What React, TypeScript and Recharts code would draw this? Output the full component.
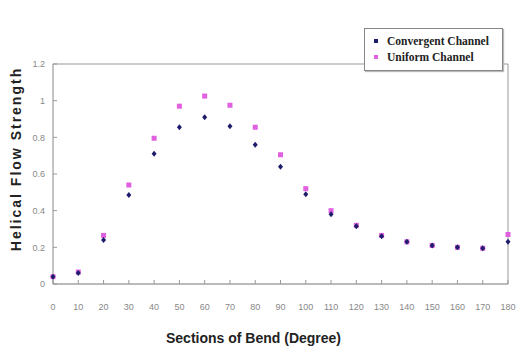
import { ScatterChart, Scatter, XAxis, YAxis, ReferenceLine, Legend, Label } from 'recharts';

const sections = [0, 10, 20, 30, 40, 50, 60, 70, 80, 90, 100, 110, 120, 130, 140, 150, 160, 170, 180];
const convergent = [0.04, 0.06, 0.24, 0.485, 0.71, 0.855, 0.91, 0.86, 0.76, 0.64, 0.49, 0.38, 0.315, 0.26, 0.23, 0.21, 0.2, 0.195, 0.23];
const uniform = [0.04, 0.065, 0.265, 0.54, 0.795, 0.97, 1.025, 0.975, 0.855, 0.705, 0.52, 0.4, 0.32, 0.265, 0.23, 0.21, 0.2, 0.195, 0.27];
const yTicks = [0, 0.2, 0.4, 0.6, 0.8, 1, 1.2];

const NAVY = '#1d1d6b';
const PINK = '#e060e0';
const SANS = 'Arial, "Liberation Sans", sans-serif';

const convData = sections.map((s, i) => ({ x: s, y: convergent[i] }));
const uniData = sections.map((s, i) => ({ x: s, y: uniform[i] }));

const Diamond = (p: any) => {
  const { cx, cy } = p;
  return <polygon points={`${cx},${cy - 3} ${cx + 2.5},${cy} ${cx},${cy + 3} ${cx - 2.5},${cy}`} fill={NAVY} />;
};

const Square = (p: any) => {
  const { cx, cy } = p;
  return <rect x={cx - 2.5} y={cy - 2.5} width={5} height={5} fill={PINK} />;
};

// y title sits a bit above the plot middle in the original
const YTitle = (p: any) => {
  const vb = p.viewBox;
  const cy = vb.y + vb.height / 2 - 15;
  return (
    <text
      x={16}
      y={cy}
      transform={`rotate(-90, 16, ${cy})`}
      textAnchor="middle"
      dominantBaseline="central"
      style={{ fontSize: 14, fontWeight: 'bold', letterSpacing: 2, fill: '#222', fontFamily: SANS }}
    >
      Helical Flow Strength
    </text>
  );
};

const LegendBox = () => (
  <div
    style={{
      border: '1px solid #888',
      boxShadow: '1px 1px 1px #bbb',
      background: '#fff',
      width: 137,
      padding: '4px 0 5px 0',
      fontFamily: '"Liberation Serif", "Times New Roman", serif',
      fontWeight: 'bold',
      fontSize: 11.5,
      color: '#222',
      lineHeight: '16px',
    }}
  >
    {[
      { name: 'Convergent Channel', c: NAVY },
      { name: 'Uniform Channel', c: PINK },
    ].map((it) => (
      <div key={it.name} style={{ display: 'flex', alignItems: 'center' }}>
        <svg width={22} height={10}>
          <rect x={9} y={3} width={4} height={4} fill={it.c} />
        </svg>
        <span>{it.name}</span>
      </div>
    ))}
  </div>
);

export default function App() {
  return (
    <div style={{ position: 'absolute', left: 0, top: 0, width: 516, height: 347, background: '#fff' }}>
      <ScatterChart width={516} height={347} margin={{ top: 21, right: 8, left: 0, bottom: 0 }}>
        <XAxis
          type="number"
          dataKey="x"
          domain={[0, 180]}
          ticks={sections}
          interval={0}
          tickSize={-4}
          tickMargin={24}
          height={63}
          axisLine={{ stroke: '#777' }}
          tickLine={{ stroke: '#999' }}
          tick={{ fontSize: 9, fill: '#888', fontFamily: SANS }}
          label={{
            value: 'Sections of Bend (Degree)',
            position: 'insideBottom',
            offset: 4,
            dx: -27,
            style: { fontSize: 14, fontWeight: 'bold', fill: '#222', fontFamily: SANS },
          }}
        />
        <YAxis
          type="number"
          dataKey="y"
          domain={[0, 1.2]}
          ticks={yTicks}
          interval={0}
          width={53}
          tickSize={-4}
          tickMargin={12}
          axisLine={{ stroke: '#888' }}
          tickLine={{ stroke: '#999' }}
          tick={{ fontSize: 9, fill: '#888', fontFamily: SANS }}
        >
          <Label content={YTitle} />
        </YAxis>
        <ReferenceLine y={1.2} stroke="#999" ifOverflow="extendDomain" />
        <ReferenceLine x={180} stroke="#999" ifOverflow="extendDomain" />
        <Legend
          verticalAlign="top"
          align="right"
          content={<LegendBox />}
          wrapperStyle={{ position: 'absolute', left: 364, top: 28, width: 140 }}
        />
        <Scatter name="Uniform Channel" data={uniData} shape={Square} isAnimationActive={false} />
        <Scatter name="Convergent Channel" data={convData} shape={Diamond} isAnimationActive={false} />
      </ScatterChart>
    </div>
  );
}
